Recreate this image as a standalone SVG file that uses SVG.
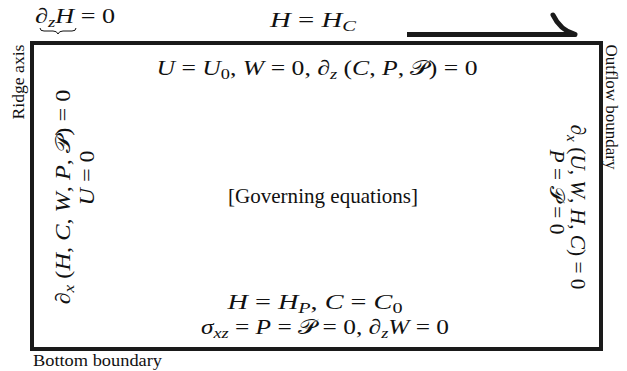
<svg xmlns="http://www.w3.org/2000/svg" width="627" height="371" viewBox="0 0 627 371">
<style>
.m{font-family:"Liberation Serif","DejaVu Serif",serif;font-size:21px;fill:#111}
.l{font-family:"Liberation Serif","DejaVu Serif",serif;font-size:16px;fill:#111}
.i{font-style:italic}
.s{font-size:15px}
</style>
<rect width="627" height="371" fill="#fff"/>
<g id="domain">
<rect x="32" y="43" width="569" height="306" fill="none" stroke="#1a1a1a" stroke-width="4"/>
</g>
<g id="connectors">
<path d="M407,34.5 H575" stroke="#1a1a1a" stroke-width="5" fill="none"/>
<path d="M553,15 Q560,30 575,34.5" stroke="#1a1a1a" stroke-width="5" fill="none" stroke-linecap="round"/>
</g>
<g id="top-labels">
<text class="m" x="35" y="23" textLength="80" lengthAdjust="spacingAndGlyphs">∂<tspan class="s i" dy="4">z</tspan><tspan class="i" dy="-4">H</tspan> = 0</text>
<path d="M40,28 q0,3 4,3 h9 q4,0 5,3 q1,-3 5,-3 h9 q4,0 4,-3" fill="none" stroke="#111" stroke-width="1"/>
<text class="m" x="313" y="27" text-anchor="middle" textLength="86" lengthAdjust="spacingAndGlyphs"><tspan class="i">H</tspan> = <tspan class="i">H</tspan><tspan class="s i" dy="4">C</tspan></text>
</g>
<g id="top-boundary">
<text class="m" x="317" y="75" text-anchor="middle" textLength="321" lengthAdjust="spacingAndGlyphs"><tspan class="i">U</tspan> = <tspan class="i">U</tspan><tspan class="s" dy="4">0</tspan><tspan dy="-4">,  </tspan><tspan class="i">W</tspan> = 0,  ∂<tspan class="s i" dy="4">z</tspan><tspan dy="-4"> (</tspan><tspan class="i">C</tspan>, <tspan class="i">P</tspan>, 𝒫) = 0</text>
</g>
<g id="governing">
<text class="m" x="323" y="203" text-anchor="middle" textLength="190" lengthAdjust="spacingAndGlyphs">[Governing equations]</text>
</g>
<g id="bottom-boundary">
<text class="m" x="315" y="309" text-anchor="middle" textLength="175" lengthAdjust="spacingAndGlyphs"><tspan class="i">H</tspan> = <tspan class="i">H</tspan><tspan class="s i" dy="4">P</tspan><tspan dy="-4">,  </tspan><tspan class="i">C</tspan> = <tspan class="i">C</tspan><tspan class="s" dy="4">0</tspan></text>
<text class="m" x="325" y="334" text-anchor="middle" textLength="248" lengthAdjust="spacingAndGlyphs"><tspan class="i">σ</tspan><tspan class="s i" dy="4">xz</tspan><tspan dy="-4"> = </tspan><tspan class="i">P</tspan> = 𝒫 = 0,  ∂<tspan class="s i" dy="4">z</tspan><tspan class="i" dy="-4">W</tspan> = 0</text>
<text class="l" x="33" y="366" textLength="129" lengthAdjust="spacingAndGlyphs">Bottom boundary</text>
</g>
<g id="ridge-axis">
<text class="l" transform="translate(24,82) rotate(-90)" text-anchor="middle" textLength="75" lengthAdjust="spacingAndGlyphs">Ridge axis</text>
<text class="m" transform="translate(70,197) rotate(-90)" text-anchor="middle" textLength="215" lengthAdjust="spacingAndGlyphs">∂<tspan class="s i" dy="4">x</tspan><tspan dy="-4"> (</tspan><tspan class="i">H</tspan>, <tspan class="i">C</tspan>, <tspan class="i">W</tspan>, <tspan class="i">P</tspan>, 𝒫) = 0</text>
<text class="m" transform="translate(94,178) rotate(-90)" text-anchor="middle" textLength="55" lengthAdjust="spacingAndGlyphs"><tspan class="i">U</tspan> = 0</text>
</g>
<g id="outflow">
<text class="l" transform="translate(606,107) rotate(90)" text-anchor="middle" textLength="125" lengthAdjust="spacingAndGlyphs">Outflow boundary</text>
<text class="m" transform="translate(571,207) rotate(90)" text-anchor="middle" textLength="165" lengthAdjust="spacingAndGlyphs">∂<tspan class="s i" dy="4">x</tspan><tspan dy="-4"> (</tspan><tspan class="i">U</tspan>, <tspan class="i">W</tspan>, <tspan class="i">H</tspan>, <tspan class="i">C</tspan>) = 0</text>
<text class="m" transform="translate(550,192) rotate(90)" text-anchor="middle" textLength="85" lengthAdjust="spacingAndGlyphs"><tspan class="i">P</tspan> = 𝒫 = 0</text>
</g>
</svg>
